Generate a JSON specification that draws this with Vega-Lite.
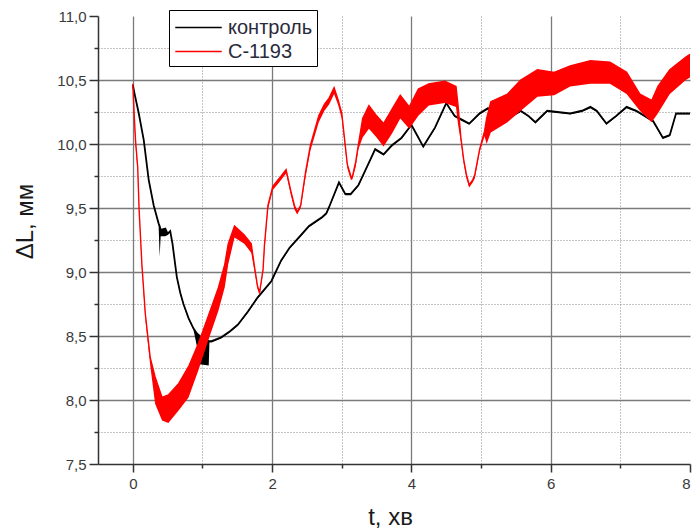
{
  "$schema": "https://vega.github.io/schema/vega-lite/v6.json",
  "autosize": {"type": "none"},
  "width": 592,
  "height": 448,
  "padding": {"left": 98, "top": 16, "right": 3, "bottom": 65},
  "background": "white",
  "config": {
    "view": {"stroke": null},
    "font": "Liberation Sans",
    "axis": {
      "labelFont": "Liberation Sans",
      "titleFont": "Liberation Sans",
      "labelFontSize": 15,
      "labelColor": "#3a3a3a",
      "titleFontSize": 24,
      "titleFontWeight": "normal",
      "titleColor": "#1a1a1a",
      "domainColor": "#333333",
      "domainWidth": 1.5,
      "tickColor": "#333333",
      "tickWidth": 1.5,
      "gridColor": "#7a7a7a",
      "gridWidth": 1.3
    },
    "legend": {
      "labelFont": "Liberation Sans"
    }
  },
  "data": {
    "values": [
      {"series": "контроль", "t": 0.00, "lo": 10.46, "hi": 10.46},
      {"series": "контроль", "t": 0.03, "lo": 10.37, "hi": 10.38},
      {"series": "контроль", "t": 0.085, "lo": 10.23, "hi": 10.24},
      {"series": "контроль", "t": 0.157, "lo": 10.02, "hi": 10.03},
      {"series": "контроль", "t": 0.228, "lo": 9.71, "hi": 9.72},
      {"series": "контроль", "t": 0.30, "lo": 9.51, "hi": 9.52},
      {"series": "контроль", "t": 0.37, "lo": 9.37, "hi": 9.38},
      {"series": "контроль", "t": 0.385, "lo": 9.12, "hi": 9.36},
      {"series": "контроль", "t": 0.40, "lo": 9.28, "hi": 9.33},
      {"series": "контроль", "t": 0.466, "lo": 9.28, "hi": 9.34},
      {"series": "контроль", "t": 0.50, "lo": 9.29, "hi": 9.30},
      {"series": "контроль", "t": 0.537, "lo": 9.31, "hi": 9.32},
      {"series": "контроль", "t": 0.57, "lo": 9.21, "hi": 9.22},
      {"series": "контроль", "t": 0.608, "lo": 9.05, "hi": 9.06},
      {"series": "контроль", "t": 0.632, "lo": 8.95, "hi": 8.96},
      {"series": "контроль", "t": 0.68, "lo": 8.83, "hi": 8.84},
      {"series": "контроль", "t": 0.727, "lo": 8.74, "hi": 8.75},
      {"series": "контроль", "t": 0.80, "lo": 8.63, "hi": 8.64},
      {"series": "контроль", "t": 0.87, "lo": 8.55, "hi": 8.56},
      {"series": "контроль", "t": 0.92, "lo": 8.42, "hi": 8.52},
      {"series": "контроль", "t": 0.94, "lo": 8.30, "hi": 8.51},
      {"series": "контроль", "t": 0.96, "lo": 8.28, "hi": 8.50},
      {"series": "контроль", "t": 1.09, "lo": 8.27, "hi": 8.46},
      {"series": "контроль", "t": 1.10, "lo": 8.45, "hi": 8.46},
      {"series": "контроль", "t": 1.13, "lo": 8.45, "hi": 8.46},
      {"series": "контроль", "t": 1.27, "lo": 8.48, "hi": 8.49},
      {"series": "контроль", "t": 1.40, "lo": 8.53, "hi": 8.54},
      {"series": "контроль", "t": 1.51, "lo": 8.58, "hi": 8.59},
      {"series": "контроль", "t": 1.65, "lo": 8.68, "hi": 8.69},
      {"series": "контроль", "t": 1.79, "lo": 8.79, "hi": 8.80},
      {"series": "контроль", "t": 1.99, "lo": 8.92, "hi": 8.93},
      {"series": "контроль", "t": 2.13, "lo": 9.08, "hi": 9.09},
      {"series": "контроль", "t": 2.25, "lo": 9.18, "hi": 9.19},
      {"series": "контроль", "t": 2.40, "lo": 9.27, "hi": 9.28},
      {"series": "контроль", "t": 2.53, "lo": 9.35, "hi": 9.36},
      {"series": "контроль", "t": 2.72, "lo": 9.42, "hi": 9.43},
      {"series": "контроль", "t": 2.78, "lo": 9.45, "hi": 9.46},
      {"series": "контроль", "t": 2.82, "lo": 9.50, "hi": 9.51},
      {"series": "контроль", "t": 2.96, "lo": 9.69, "hi": 9.70},
      {"series": "контроль", "t": 3.05, "lo": 9.60, "hi": 9.61},
      {"series": "контроль", "t": 3.13, "lo": 9.60, "hi": 9.61},
      {"series": "контроль", "t": 3.24, "lo": 9.67, "hi": 9.68},
      {"series": "контроль", "t": 3.36, "lo": 9.81, "hi": 9.82},
      {"series": "контроль", "t": 3.48, "lo": 9.95, "hi": 9.96},
      {"series": "контроль", "t": 3.60, "lo": 9.91, "hi": 9.92},
      {"series": "контроль", "t": 3.72, "lo": 9.98, "hi": 9.99},
      {"series": "контроль", "t": 3.86, "lo": 10.04, "hi": 10.05},
      {"series": "контроль", "t": 4.00, "lo": 10.14, "hi": 10.15},
      {"series": "контроль", "t": 4.08, "lo": 10.06, "hi": 10.07},
      {"series": "контроль", "t": 4.17, "lo": 9.97, "hi": 9.98},
      {"series": "контроль", "t": 4.34, "lo": 10.12, "hi": 10.13},
      {"series": "контроль", "t": 4.50, "lo": 10.31, "hi": 10.32},
      {"series": "контроль", "t": 4.62, "lo": 10.21, "hi": 10.22},
      {"series": "контроль", "t": 4.69, "lo": 10.19, "hi": 10.20},
      {"series": "контроль", "t": 4.83, "lo": 10.15, "hi": 10.16},
      {"series": "контроль", "t": 4.98, "lo": 10.23, "hi": 10.24},
      {"series": "контроль", "t": 5.10, "lo": 10.27, "hi": 10.28},
      {"series": "контроль", "t": 5.21, "lo": 10.23, "hi": 10.24},
      {"series": "контроль", "t": 5.38, "lo": 10.19, "hi": 10.20},
      {"series": "контроль", "t": 5.57, "lo": 10.25, "hi": 10.26},
      {"series": "контроль", "t": 5.68, "lo": 10.21, "hi": 10.22},
      {"series": "контроль", "t": 5.78, "lo": 10.16, "hi": 10.17},
      {"series": "контроль", "t": 5.95, "lo": 10.25, "hi": 10.26},
      {"series": "контроль", "t": 6.28, "lo": 10.23, "hi": 10.24},
      {"series": "контроль", "t": 6.45, "lo": 10.25, "hi": 10.26},
      {"series": "контроль", "t": 6.57, "lo": 10.28, "hi": 10.29},
      {"series": "контроль", "t": 6.66, "lo": 10.25, "hi": 10.26},
      {"series": "контроль", "t": 6.80, "lo": 10.15, "hi": 10.16},
      {"series": "контроль", "t": 6.94, "lo": 10.21, "hi": 10.22},
      {"series": "контроль", "t": 7.09, "lo": 10.28, "hi": 10.29},
      {"series": "контроль", "t": 7.23, "lo": 10.25, "hi": 10.26},
      {"series": "контроль", "t": 7.47, "lo": 10.17, "hi": 10.18},
      {"series": "контроль", "t": 7.61, "lo": 10.04, "hi": 10.05},
      {"series": "контроль", "t": 7.71, "lo": 10.06, "hi": 10.07},
      {"series": "контроль", "t": 7.80, "lo": 10.23, "hi": 10.24},
      {"series": "контроль", "t": 7.94, "lo": 10.23, "hi": 10.24},
      {"series": "контроль", "t": 8.00, "lo": 10.23, "hi": 10.24},

      {"series": "C-1193", "t": 0.00, "lo": 10.47, "hi": 10.47},
      {"series": "C-1193", "t": 0.02, "lo": 10.18, "hi": 10.22},
      {"series": "C-1193", "t": 0.04, "lo": 9.98, "hi": 10.02},
      {"series": "C-1193", "t": 0.07, "lo": 9.78, "hi": 9.82},
      {"series": "C-1193", "t": 0.09, "lo": 9.46, "hi": 9.49},
      {"series": "C-1193", "t": 0.13, "lo": 9.03, "hi": 9.06},
      {"series": "C-1193", "t": 0.18, "lo": 8.63, "hi": 8.67},
      {"series": "C-1193", "t": 0.25, "lo": 8.27, "hi": 8.33},
      {"series": "C-1193", "t": 0.32, "lo": 7.97, "hi": 8.18},
      {"series": "C-1193", "t": 0.42, "lo": 7.84, "hi": 8.02},
      {"series": "C-1193", "t": 0.51, "lo": 7.82, "hi": 8.04},
      {"series": "C-1193", "t": 0.66, "lo": 7.92, "hi": 8.13},
      {"series": "C-1193", "t": 0.80, "lo": 8.02, "hi": 8.26},
      {"series": "C-1193", "t": 0.94, "lo": 8.23, "hi": 8.44},
      {"series": "C-1193", "t": 1.08, "lo": 8.46, "hi": 8.65},
      {"series": "C-1193", "t": 1.23, "lo": 8.70, "hi": 8.88},
      {"series": "C-1193", "t": 1.32, "lo": 8.88, "hi": 9.06},
      {"series": "C-1193", "t": 1.37, "lo": 9.06, "hi": 9.22},
      {"series": "C-1193", "t": 1.46, "lo": 9.27, "hi": 9.36},
      {"series": "C-1193", "t": 1.60, "lo": 9.22, "hi": 9.29},
      {"series": "C-1193", "t": 1.70, "lo": 9.15, "hi": 9.22},
      {"series": "C-1193", "t": 1.75, "lo": 9.00, "hi": 9.03},
      {"series": "C-1193", "t": 1.79, "lo": 8.87, "hi": 8.89},
      {"series": "C-1193", "t": 1.82, "lo": 8.82, "hi": 8.84},
      {"series": "C-1193", "t": 1.87, "lo": 9.00, "hi": 9.02},
      {"series": "C-1193", "t": 1.89, "lo": 9.17, "hi": 9.21},
      {"series": "C-1193", "t": 1.94, "lo": 9.49, "hi": 9.52},
      {"series": "C-1193", "t": 2.01, "lo": 9.64, "hi": 9.67},
      {"series": "C-1193", "t": 2.10, "lo": 9.70, "hi": 9.73},
      {"series": "C-1193", "t": 2.20, "lo": 9.77, "hi": 9.80},
      {"series": "C-1193", "t": 2.27, "lo": 9.60, "hi": 9.63},
      {"series": "C-1193", "t": 2.32, "lo": 9.49, "hi": 9.52},
      {"series": "C-1193", "t": 2.36, "lo": 9.45, "hi": 9.47},
      {"series": "C-1193", "t": 2.41, "lo": 9.50, "hi": 9.52},
      {"series": "C-1193", "t": 2.48, "lo": 9.74, "hi": 9.78},
      {"series": "C-1193", "t": 2.55, "lo": 9.95, "hi": 9.99},
      {"series": "C-1193", "t": 2.67, "lo": 10.17, "hi": 10.22},
      {"series": "C-1193", "t": 2.75, "lo": 10.26, "hi": 10.31},
      {"series": "C-1193", "t": 2.82, "lo": 10.31, "hi": 10.36},
      {"series": "C-1193", "t": 2.89, "lo": 10.39, "hi": 10.44},
      {"series": "C-1193", "t": 2.95, "lo": 10.30, "hi": 10.34},
      {"series": "C-1193", "t": 3.00, "lo": 10.20, "hi": 10.24},
      {"series": "C-1193", "t": 3.08, "lo": 9.81, "hi": 9.84},
      {"series": "C-1193", "t": 3.13, "lo": 9.72, "hi": 9.75},
      {"series": "C-1193", "t": 3.15, "lo": 9.72, "hi": 9.74},
      {"series": "C-1193", "t": 3.20, "lo": 9.82, "hi": 9.86},
      {"series": "C-1193", "t": 3.24, "lo": 9.96, "hi": 10.00},
      {"series": "C-1193", "t": 3.30, "lo": 10.05, "hi": 10.20},
      {"series": "C-1193", "t": 3.39, "lo": 10.12, "hi": 10.30},
      {"series": "C-1193", "t": 3.50, "lo": 10.05, "hi": 10.22},
      {"series": "C-1193", "t": 3.60, "lo": 9.98, "hi": 10.16},
      {"series": "C-1193", "t": 3.72, "lo": 10.08, "hi": 10.27},
      {"series": "C-1193", "t": 3.84, "lo": 10.20, "hi": 10.38},
      {"series": "C-1193", "t": 3.97, "lo": 10.12, "hi": 10.29},
      {"series": "C-1193", "t": 4.10, "lo": 10.22, "hi": 10.43},
      {"series": "C-1193", "t": 4.25, "lo": 10.30, "hi": 10.47},
      {"series": "C-1193", "t": 4.48, "lo": 10.32, "hi": 10.49},
      {"series": "C-1193", "t": 4.64, "lo": 10.29, "hi": 10.45},
      {"series": "C-1193", "t": 4.67, "lo": 10.15, "hi": 10.30},
      {"series": "C-1193", "t": 4.71, "lo": 10.02, "hi": 10.05},
      {"series": "C-1193", "t": 4.75, "lo": 9.85, "hi": 9.88},
      {"series": "C-1193", "t": 4.79, "lo": 9.73, "hi": 9.76},
      {"series": "C-1193", "t": 4.83, "lo": 9.66, "hi": 9.68},
      {"series": "C-1193", "t": 4.88, "lo": 9.70, "hi": 9.72},
      {"series": "C-1193", "t": 4.91, "lo": 9.73, "hi": 9.76},
      {"series": "C-1193", "t": 4.98, "lo": 9.94, "hi": 9.96},
      {"series": "C-1193", "t": 5.05, "lo": 10.06, "hi": 10.10},
      {"series": "C-1193", "t": 5.08, "lo": 10.00, "hi": 10.20},
      {"series": "C-1193", "t": 5.14, "lo": 10.09, "hi": 10.33},
      {"series": "C-1193", "t": 5.38, "lo": 10.17, "hi": 10.39},
      {"series": "C-1193", "t": 5.57, "lo": 10.26, "hi": 10.50},
      {"series": "C-1193", "t": 5.81, "lo": 10.37, "hi": 10.58},
      {"series": "C-1193", "t": 6.05, "lo": 10.38, "hi": 10.56},
      {"series": "C-1193", "t": 6.28, "lo": 10.45, "hi": 10.61},
      {"series": "C-1193", "t": 6.57, "lo": 10.47, "hi": 10.65},
      {"series": "C-1193", "t": 6.85, "lo": 10.47, "hi": 10.64},
      {"series": "C-1193", "t": 7.09, "lo": 10.39, "hi": 10.56},
      {"series": "C-1193", "t": 7.28, "lo": 10.26, "hi": 10.39},
      {"series": "C-1193", "t": 7.45, "lo": 10.17, "hi": 10.34},
      {"series": "C-1193", "t": 7.54, "lo": 10.24, "hi": 10.45},
      {"series": "C-1193", "t": 7.71, "lo": 10.39, "hi": 10.58},
      {"series": "C-1193", "t": 7.94, "lo": 10.50, "hi": 10.68},
      {"series": "C-1193", "t": 8.00, "lo": 10.52, "hi": 10.70}
    ]
  },
  "encoding": {
    "x": {
      "field": "t",
      "type": "quantitative",
      "scale": {"domain": [-0.5, 8], "nice": false, "zero": false},
      "axis": {
        "title": "t, хв",
        "values": [0, 1, 2, 3, 4, 5, 6, 7, 8],
        "labelExpr": "datum.value % 2 == 0 ? datum.label : ''",
        "labelPadding": 4,
        "tickSize": {"condition": {"test": "datum.value % 2 == 0", "value": 8}, "value": 4},
        "gridDash": {"condition": {"test": "datum.value % 2 == 0", "value": []}, "value": [1, 2]},
        "gridColor": {"condition": {"test": "datum.value % 2 == 0", "value": "#7a7a7a"}, "value": "#8a8a8a"},
        "gridWidth": {"condition": {"test": "datum.value % 2 == 0", "value": 1.3}, "value": 1},
        "gridOpacity": {"condition": {"test": "datum.value == 8", "value": 0}, "value": 1},
        "titleX": 292,
        "titleY": 60,
        "titleAlign": "center",
        "titleBaseline": "alphabetic"
      }
    },
    "y": {
      "field": "hi",
      "type": "quantitative",
      "scale": {"domain": [7.5, 11], "nice": false, "zero": false},
      "axis": {
        "title": "ΔL, мм",
        "values": [7.5, 7.75, 8, 8.25, 8.5, 8.75, 9, 9.25, 9.5, 9.75, 10, 10.25, 10.5, 10.75, 11],
        "labelExpr": "(datum.value * 4) % 2 == 0 ? replace(format(datum.value, '.1f'), '.', ',') : ''",
        "labelPadding": 3,
        "tickSize": {"condition": {"test": "(datum.value * 4) % 2 == 0", "value": 9}, "value": 4},
        "gridDash": {"condition": {"test": "(datum.value * 4) % 2 == 0", "value": []}, "value": [1, 2]},
        "gridColor": {"condition": {"test": "(datum.value * 4) % 2 == 0", "value": "#7a7a7a"}, "value": "#8a8a8a"},
        "gridWidth": {"condition": {"test": "(datum.value * 4) % 2 == 0", "value": 1.3}, "value": 1},
        "gridOpacity": {"condition": {"test": "datum.value == 11 || datum.value == 7.5", "value": 0}, "value": 1},
        "titleX": -73,
        "titleY": 205,
        "titleAngle": -90,
        "titleAlign": "center",
        "titleBaseline": "middle"
      }
    }
  },
  "layer": [
    {
      "transform": [{"filter": "datum.series == 'контроль'"}],
      "mark": {"type": "area", "fill": "black", "opacity": 1},
      "encoding": {"y": {"field": "lo", "type": "quantitative"}, "y2": {"field": "hi"}}
    },
    {
      "transform": [{"filter": "datum.series == 'контроль'"}],
      "mark": {"type": "line", "strokeWidth": 1.8},
      "encoding": {
        "color": {
          "field": "series",
          "type": "nominal",
          "sort": ["контроль", "C-1193"],
          "scale": {"domain": ["контроль", "C-1193"], "range": ["black", "red"]},
          "legend": {
            "title": null,
            "orient": "none",
            "legendX": 71,
            "legendY": -6,
            "padding": 4,
            "strokeColor": "black",
            "fillColor": "white",
            "cornerRadius": 0,
            "labelFontSize": 20,
            "labelColor": "#2a2a3a",
            "symbolType": "M-1.86,0H1.86",
            "symbolSize": 625,
            "symbolStrokeWidth": 1.5,
            "symbolOffset": 12,
            "labelOffset": 16,
            "rowPadding": 0
          }
        }
      }
    },
    {
      "transform": [{"filter": "datum.series == 'C-1193'"}],
      "mark": {"type": "area", "fill": "red", "opacity": 1},
      "encoding": {"y": {"field": "lo", "type": "quantitative"}, "y2": {"field": "hi"}}
    },
    {
      "transform": [{"filter": "datum.series == 'C-1193'"}],
      "mark": {"type": "line", "strokeWidth": 1.4},
      "encoding": {
        "color": {
          "field": "series",
          "type": "nominal",
          "sort": ["контроль", "C-1193"],
          "scale": {"domain": ["контроль", "C-1193"], "range": ["black", "red"]}
        }
      }
    }
  ]
}
